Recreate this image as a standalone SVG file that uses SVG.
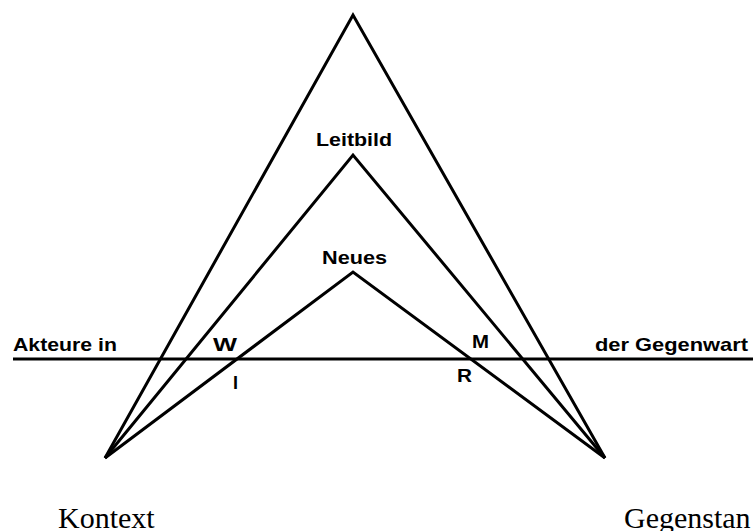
<svg xmlns="http://www.w3.org/2000/svg" width="753" height="531" viewBox="0 0 753 531">
<style>
.ln{fill:none;stroke:#000;stroke-width:3;stroke-linejoin:miter}
.lb{font-family:"Liberation Sans",Arial,sans-serif;font-weight:bold;font-size:19px;fill:#000}
.sf{font-family:"Liberation Serif","Times New Roman",serif;font-size:30px;fill:#000}
</style>
<rect width="753" height="531" fill="#fff"/>
<g id="connectors">
<line class="ln" x1="13" y1="359" x2="753" y2="359"/>
<polyline class="ln" points="105,458 353,15 605,458"/>
<polyline class="ln" points="105,458 353,155 605,458"/>
<polyline class="ln" points="105,458 353,272 605,458"/>
</g>
<g id="leitbild"><text class="lb" x="316" y="146" textLength="76" lengthAdjust="spacingAndGlyphs">Leitbild</text></g>
<g id="neues"><text class="lb" x="322" y="264" textLength="65" lengthAdjust="spacingAndGlyphs">Neues</text></g>
<g id="akteure"><text class="lb" x="13" y="351" textLength="104" lengthAdjust="spacingAndGlyphs">Akteure in</text></g>
<g id="gegenwart"><text class="lb" x="595" y="351" textLength="153" lengthAdjust="spacingAndGlyphs">der Gegenwart</text></g>
<g id="w"><text class="lb" x="213" y="351" textLength="24" lengthAdjust="spacingAndGlyphs">W</text></g>
<g id="i"><text class="lb" x="233" y="389" textLength="5" lengthAdjust="spacingAndGlyphs">I</text></g>
<g id="m"><text class="lb" x="472" y="348" textLength="17" lengthAdjust="spacingAndGlyphs">M</text></g>
<g id="r"><text class="lb" x="457" y="382" textLength="15" lengthAdjust="spacingAndGlyphs">R</text></g>
<g id="kontext"><text class="sf" x="58" y="528">Kontext</text></g>
<g id="gegenstand"><text class="sf" x="624" y="528">Gegenstan</text></g>
</svg>
